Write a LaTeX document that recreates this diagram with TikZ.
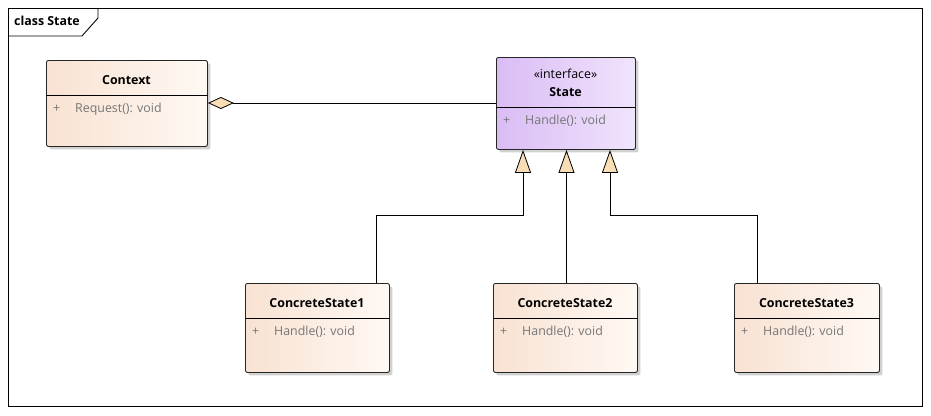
\documentclass[tikz,border=0pt]{standalone}
\usepackage{fontspec}
\setmainfont{Open Sans}
\usetikzlibrary{arrows.meta, shadows}

\definecolor{peachL}{RGB}{248,226,210}
\definecolor{peachR}{RGB}{255,249,244}
\definecolor{lilacL}{RGB}{218,188,245}
\definecolor{lilacR}{RGB}{240,228,252}
\definecolor{tipfill}{RGB}{249,221,181}
\definecolor{membergray}{RGB}{118,118,118}

\tikzset{
    classbox/.style={draw=black!85, line width=0.9pt, rounded corners=2pt,
        anchor=north west, inner sep=0pt,
        drop shadow={shadow xshift=3pt, shadow yshift=-3pt, fill=black!18, opacity=1}},
    concrete/.style={classbox, left color=peachL, right color=peachR},
    iface/.style={classbox, left color=lilacL, right color=lilacR},
    title/.style={font=\fontsize{12.4}{14}\selectfont\bfseries, inner sep=0pt},
    stereo/.style={font=\fontsize{12.4}{14}\selectfont, inner sep=0pt},
    member/.style={font=\fontsize{12.4}{14}\selectfont, text=membergray, inner sep=0pt, anchor=west},
    line/.style={line width=0.9pt, draw=black},
    realize/.style={line, -{Triangle[width=16pt, length=23pt, fill=tipfill, line width=0.8pt]}},
    aggregation/.style={line, -{Diamond[width=12pt, length=26pt, fill=tipfill, line width=0.8pt]}}
}

\begin{document}
\begin{tikzpicture}[x=1pt, y=-1pt]
\useasboundingbox (0,0) rectangle (931,415);
% Frame
\draw[line width=0.9pt, fill=white] (8,8) rectangle (922,406);
\draw[line width=0.9pt] (8,36) -- (82,36) -- (98,18) -- (98,8);
\node[title, anchor=west] (frame tag) at (14,21) {class State};

% Classes
\node[concrete, minimum width=161pt, minimum height=86pt] (context) at (46,60) {};
\node[iface, minimum width=139pt, minimum height=92pt] (state) at (496,57) {};
\node[concrete, minimum width=144pt, minimum height=89pt] (cs1) at (245,283) {};
\node[concrete, minimum width=144pt, minimum height=89pt] (cs2) at (493,283) {};
\node[concrete, minimum width=145pt, minimum height=89pt] (cs3) at (734,283) {};

% Compartments
\draw[line] (context.west |- 0,95) -- (context.east |- 0,95);
\draw[line] (state.west |- 0,107) -- (state.east |- 0,107);
\draw[line] (cs1.west |- 0,318) -- (cs1.east |- 0,318);
\draw[line] (cs2.west |- 0,318) -- (cs2.east |- 0,318);
\draw[line] (cs3.west |- 0,318) -- (cs3.east |- 0,318);

% Texts
\node[title] (context name) at (126.5,80) {Context};
\node[member] (context plus) at (53,109) {+};
\node[member] (context op) at (75,109) {Request(): void};

\node[stereo] (state stereo) at (565.5,74) {«interface»};
\node[title] (state name) at (565.5,92) {State};
\node[member] (state plus) at (503,121) {+};
\node[member] (state op) at (525,121) {Handle(): void};

\node[title] (cs1 name) at (317,303) {ConcreteState1};
\node[member] (cs1 plus) at (252,332) {+};
\node[member] (cs1 op) at (274,332) {Handle(): void};

\node[title] (cs2 name) at (565,303) {ConcreteState2};
\node[member] (cs2 plus) at (500,332) {+};
\node[member] (cs2 op) at (522,332) {Handle(): void};

\node[title] (cs3 name) at (806.5,303) {ConcreteState3};
\node[member] (cs3 plus) at (741,332) {+};
\node[member] (cs3 op) at (763,332) {Handle(): void};

% Relations
\draw[aggregation] (state.west |- 0,103) -- (context.east |- 0,103);
\draw[realize] (cs1.north -| 376,0) |- (523,215) -- (state.south -| 523,0);
\draw[realize] (cs2.north -| 566.5,0) -- (state.south -| 566.5,0);
\draw[realize] (cs3.north -| 757,0) |- (610,215) -- (state.south -| 610,0);
\end{tikzpicture}
\end{document}
